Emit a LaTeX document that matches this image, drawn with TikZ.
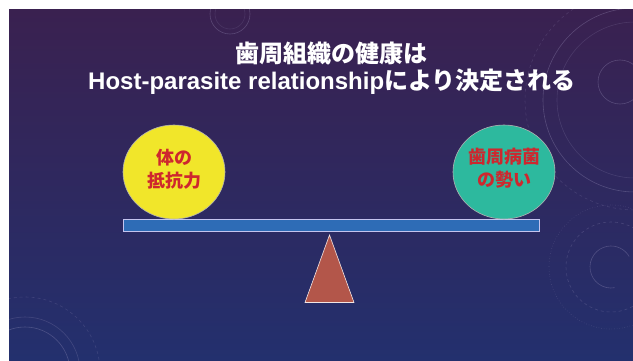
\documentclass[tikz,border=0pt]{standalone}
\usepackage{fontspec}
\newfontfamily\jp{Noto Sans CJK JP}
\newfontfamily\lib{Liberation Sans}
\usetikzlibrary{shapes.geometric,arrows.meta}
\definecolor{bgtop}{HTML}{3A2150}
\definecolor{bgmid}{HTML}{2D2A60}
\definecolor{bgbot}{HTML}{23306E}
\definecolor{ballY}{HTML}{F1E62A}
\definecolor{ballG}{HTML}{2DB99E}
\definecolor{txtred}{HTML}{CE272E}
\definecolor{beamblue}{HTML}{2E6CB6}
\definecolor{pivot}{HTML}{B3564A}
\definecolor{hud}{HTML}{A8A0C8}
\tikzset{
  ball/.style={ellipse, draw=gray!60, line width=0.6pt, minimum width=102, minimum height=94, inner sep=0pt},
  balltext/.style={text=txtred, font=\jp\bfseries\fontsize{18}{23}\selectfont, align=center, inner sep=0pt},
  titletext/.style={text=white, font=\jp\bfseries\fontsize{24}{27}\selectfont, align=center, inner sep=0pt},
  beambox/.style={rectangle, fill=beamblue, draw=gray!45!blue!30, line width=0.8pt, minimum width=416, minimum height=11.5, inner sep=0pt},
  hudline/.style={draw=hud, opacity=0.3, line width=0.6pt},
}
\begin{document}
\begin{tikzpicture}[x=1pt,y=-1pt]
\useasboundingbox (0,0) rectangle (633,361);
\fill[white] (0,0) rectangle (633,361);
\shade[top color=bgtop, middle color=bgmid, bottom color=bgbot] (9,10) rectangle (633,361);
\begin{scope}
\clip (9,10) rectangle (633,361);
% faint HUD decorations
\draw[hudline] (230,14) circle[radius=20];
\draw[hudline, opacity=0.15] (230,14) circle[radius=15];
\draw[hudline] (635,100) circle[radius=92];
\draw[hudline, opacity=0.18] (635,100) circle[radius=78];
\draw[hudline, dashed, opacity=0.18] (635,100) circle[radius=110];
\draw[hudline] (620,82) circle[radius=22];
\draw[hudline] (611,267) ++(80:21) arc[start angle=80, end angle=330, radius=21];
\draw[hudline, dashed, opacity=0.22] (611,267) circle[radius=45];
\draw[hudline, dotted, opacity=0.22] (611,267) circle[radius=62];
\draw[hudline] (25,372) circle[radius=45];
\draw[hudline, opacity=0.22] (25,372) circle[radius=55];
\draw[hudline, dashed, opacity=0.18] (25,372) circle[radius=75];
\end{scope}
% title
\node[titletext] (title) at (332,68.5) {歯周組織の健康は\\{\lib\bfseries Host-parasite relationship}により決定される};
% beam and pivot
\node[beambox] (beam) at (331,225.5) {};
\coordinate (apex) at (329.5,235);
\coordinate (bl) at (305,302.5);
\coordinate (br) at (354,302.5);
\draw[fill=pivot, draw=white!85!pivot, line width=0.6pt] (apex) -- (br) -- (bl) -- cycle;
% balls
\node[ball, fill=ballY] (host) at (174,172) {};
\node[ball, fill=ballG] (germ) at (504,172) {};
\node[balltext] (hosttext) at ([yshift=3]host.center) {体の\\抵抗力};
\node[balltext] (germtext) at ([yshift=4]germ.center) {歯周病菌\\の勢い};
\end{tikzpicture}
\end{document}
